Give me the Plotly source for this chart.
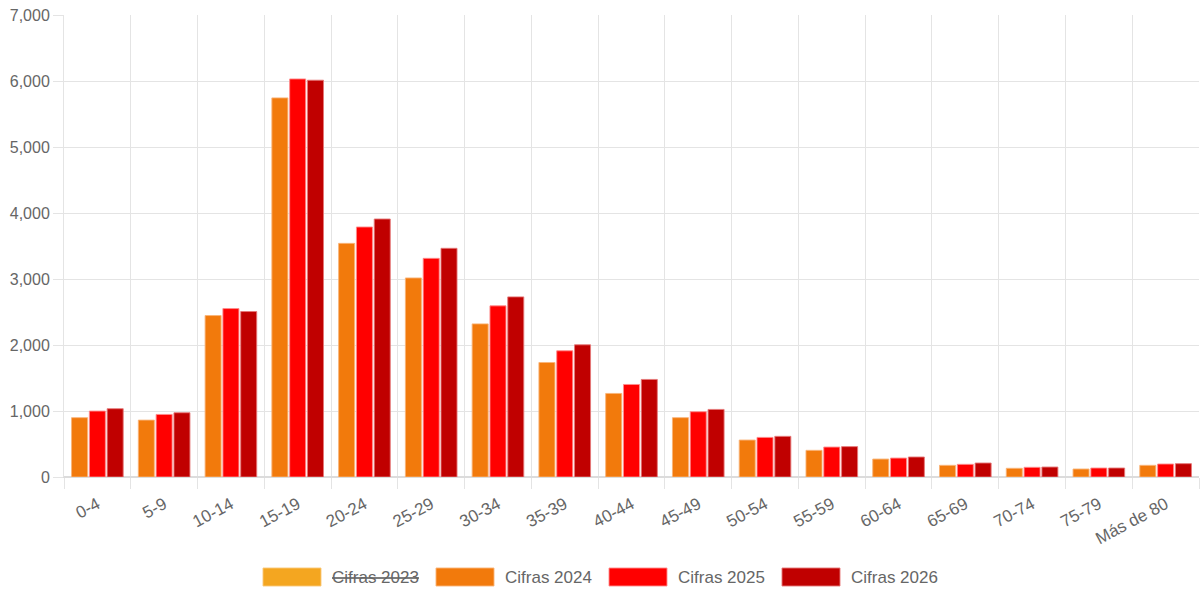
import plotly.graph_objects as go

categories = ["0-4", "5-9", "10-14", "15-19", "20-24", "25-29", "30-34", "35-39",
              "40-44", "45-49", "50-54", "55-59", "60-64", "65-69", "70-74", "75-79",
              "Más de 80"]

# Cifras 2023 is hidden in the reference (legend entry struck through)
cifras_2023 = [None, None, None, None, None, None, None, None, None,
               None, None, None, None, None, None, None, None]
cifras_2024 = [899, 862, 2446, 5744, 3540, 3016, 2320, 1735, 1266,
               899, 560, 404, 272, 177, 132, 121, 177]
cifras_2025 = [999, 948, 2552, 6031, 3788, 3313, 2593, 1912, 1402,
               989, 600, 454, 287, 192, 147, 136, 197]
cifras_2026 = [1035, 974, 2507, 6012, 3909, 3465, 2729, 2003, 1478,
               1024, 616, 460, 303, 212, 151, 136, 202]

series = [
    ("Cifras 2023", cifras_2023, "#F4A620", "rgba(250,200,120,0.9)", False),
    ("Cifras 2024", cifras_2024, "#F27A0C", "rgba(250,180,120,0.9)", True),
    ("Cifras 2025", cifras_2025, "#FF0000", "rgba(255,140,140,0.9)", True),
    ("Cifras 2026", cifras_2026, "#C00000", "rgba(230,120,120,0.9)", True),
]

W, H = 1200, 600
ML, MR, MT, MB = 64, 1, 15, 123
PW, PH = W - ML - MR, H - MT - MB

fig = go.Figure()
for name, vals, color, border, shown in series:
    fig.add_trace(go.Bar(
        x=categories, y=vals, name=name, visible=True if shown else "legendonly",
        showlegend=False,
        marker=dict(color=color, line=dict(color=border, width=1)),
    ))

font_family = "Liberation Sans, Arial, Helvetica, sans-serif"

# Legend drawn as wide swatches + text (Chart.js style)
def px_x(px):
    return (px - ML) / PW

def px_y(py):
    return (H - MB - py) / PH

leg_x0, leg_pitch, sw_w, sw_top, sw_bot = 263, 173, 58, 568, 586
for i, (name, vals, color, border, shown) in enumerate(series):
    x0 = leg_x0 + i * leg_pitch
    fig.add_shape(type="rect", xref="paper", yref="paper",
                  x0=px_x(x0), x1=px_x(x0 + sw_w), y0=px_y(sw_bot), y1=px_y(sw_top),
                  fillcolor=color, line=dict(color=border, width=1))
    label = name if shown else f"<span style='text-decoration:line-through'>{name}</span>"
    fig.add_annotation(xref="paper", yref="paper", x=px_x(x0 + sw_w + 9),
                       y=px_y((sw_top + sw_bot) / 2), xanchor="left", yanchor="middle",
                       text=label, showarrow=False,
                       font=dict(family=font_family, size=17, color="#666666"))

fig.update_layout(
    width=W, height=H,
    margin=dict(l=ML, r=MR, t=MT, b=MB),
    paper_bgcolor="white", plot_bgcolor="white",
    barmode="group", bargap=0.2, bargroupgap=0.1,
    font=dict(family=font_family, size=16, color="#666666"),
    showlegend=False,
    xaxis=dict(
        type="category", tickson="boundaries", showgrid=True, gridcolor="#e4e4e4",
        ticks="outside", ticklen=11, tickcolor="#e4e4e4", tickangle=-28,
        showline=True, linecolor="#dcdcdc", zeroline=False, automargin=False,
        ticklabelstandoff=10,
        tickfont=dict(size=17, color="#666666"),
    ),
    yaxis=dict(
        range=[0, 7000], dtick=1000, tickformat=",", showgrid=True, gridcolor="#e4e4e4",
        ticks="outside", ticklen=10, tickcolor="#e4e4e4", zeroline=True,
        zerolinecolor="#dcdcdc", showline=True, linecolor="#e4e4e4", automargin=False,
        tickfont=dict(size=16, color="#666666"),
    ),
)

fig.write_html("out.html")
